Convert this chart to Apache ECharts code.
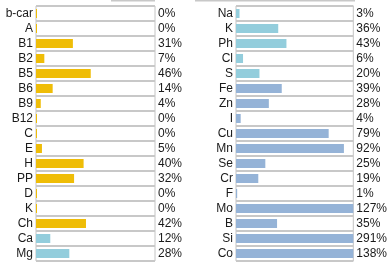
<!DOCTYPE html>
<html>
<head>
<meta charset="utf-8">
<script src="https://cdn.jsdelivr.net/npm/echarts@6/dist/echarts.min.js"></script>
<style>
html,body{margin:0;padding:0;background:#fff;}
#chartDiv{width:390px;height:268px;}
</style>
</head>
<body>
<div id="chartDiv"></div>
<script>
// left column: vitamins + first minerals
var leftNames = ['b-car','A','B1','B2','B5','B6','B9','B12','C','E','H','PP','D','K','Ch','Ca','Mg']
var leftValues = [0,0,31,7,46,14,4,0,0,5,40,32,0,0,42,12,28]
var leftGroups = ['vit','vit','vit','vit','vit','vit','vit','vit','vit','vit','vit','vit','vit','vit','vit','macro','macro']

// right column: minerals
var rightNames = ['Na','K','Ph','Cl','S','Fe','Zn','I','Cu','Mn','Se','Cr','F','Mo','B','Si','Co']
var rightValues = [3,36,43,6,20,39,28,4,79,92,25,19,1,127,35,291,138]
var rightGroups = ['macro','macro','macro','macro','macro','trace','trace','trace','trace','trace','trace','trace','trace','trace','trace','trace','trace']

var groupColor = {vit:'#EFBD07', macro:'#93CDDC', trace:'#95B3D7'}
var fontFamily = "'Liberation Sans', Arial, sans-serif"

var myChart = echarts.init(document.getElementById('chartDiv'))

function makeGrid(left) {
    return {
        left: left,
        top: 6,
        width: 119,
        height: 255,
        show: true,
        backgroundColor: '#fff',
        borderColor: '#c4c4c4',
        borderWidth: 1
    }
}

function makeYAxes(gridIndex, names, values) {
    return [{
        type: 'category',
        gridIndex: gridIndex,
        inverse: true,
        data: names,
        axisLine: {show: false},
        axisTick: {show: false},
        axisLabel: {interval: 0, margin: 3, color: '#1a1a1a', fontSize: 12, fontFamily: fontFamily},
        splitLine: {show: true, interval: 0, lineStyle: {color: '#c8c8c8', width: 2}}
    }, {
        type: 'category',
        gridIndex: gridIndex,
        inverse: true,
        position: 'right',
        data: values.map(function (v) { return v + '%' }),
        axisLine: {show: false},
        axisTick: {show: false},
        axisLabel: {interval: 0, margin: 3, color: '#1a1a1a', fontSize: 12, fontFamily: fontFamily},
        splitLine: {show: false}
    }]
}

function makeXAxis(gridIndex) {
    return {
        type: 'value',
        gridIndex: gridIndex,
        min: 0,
        max: 100,
        show: false
    }
}

function makeSeries(idx, values, groups) {
    return {
        type: 'bar',
        xAxisIndex: idx,
        yAxisIndex: idx * 2,
        data: values,
        barWidth: 9,
        barMinHeight: 1,
        clip: true,
        silent: true,
        itemStyle: {
            color: function (p) { return groupColor[groups[p.dataIndex]] }
        }
    }
}

var option = {
    animation: false,
    backgroundColor: '#fff',
    grid: [makeGrid(36), makeGrid(236)],
    xAxis: [makeXAxis(0), makeXAxis(1)],
    yAxis: makeYAxes(0, leftNames, leftValues).concat(makeYAxes(1, rightNames, rightValues)),
    series: [makeSeries(0, leftValues, leftGroups), makeSeries(1, rightValues, rightGroups)],
    graphic: [
        {type: 'line', shape: {x1: 111, y1: 0.5, x2: 155, y2: 0.5}, style: {stroke: '#c8c8c8', lineWidth: 2}},
        {type: 'line', shape: {x1: 195, y1: 0.5, x2: 355, y2: 0.5}, style: {stroke: '#c8c8c8', lineWidth: 2}}
    ]
}

myChart.setOption(option)
window.addEventListener('resize', function () {
    myChart.resize()
})
</script>
</body>
</html>
